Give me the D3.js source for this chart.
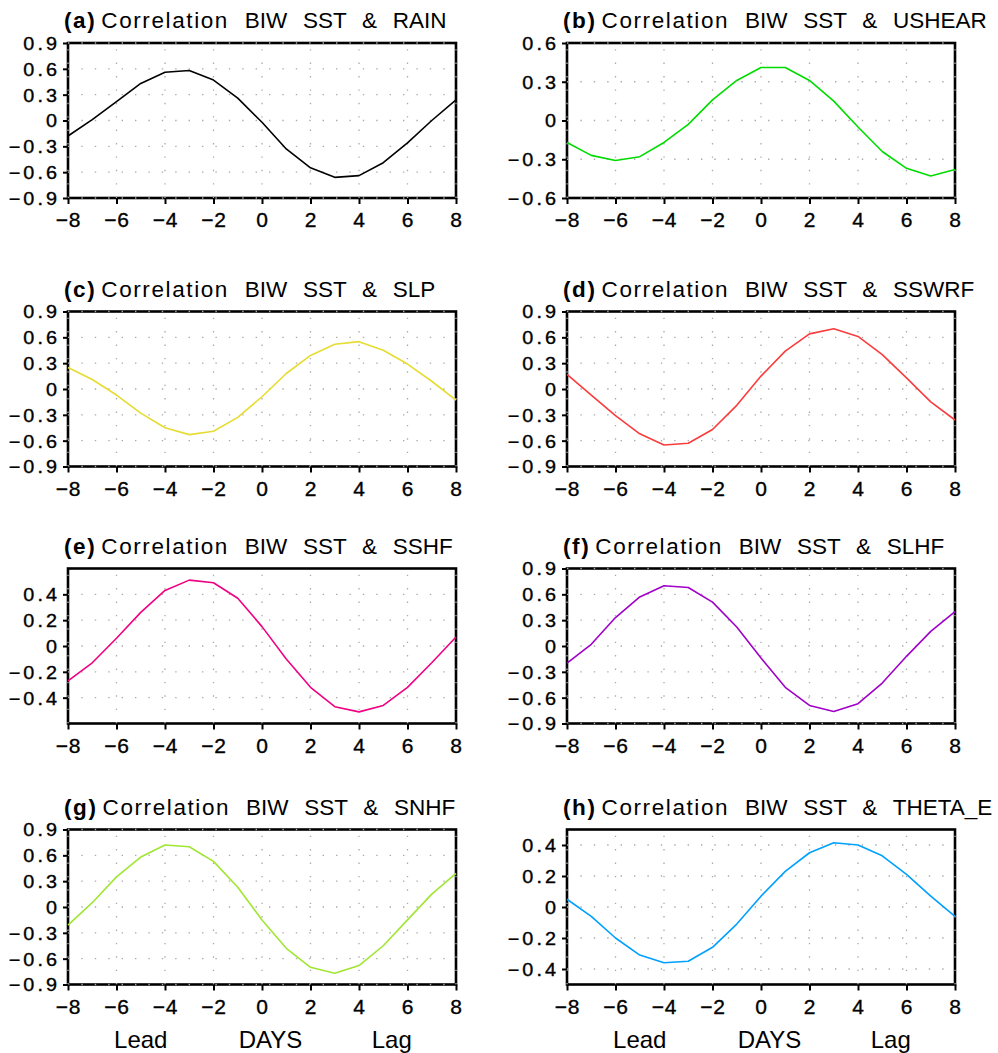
<!DOCTYPE html>
<html>
<head>
<meta charset="utf-8">
<script src="https://cdn.jsdelivr.net/npm/d3@7"></script>
<style>
  body { margin: 0; background: #fff; }
  text { font-family: "Liberation Sans", Arial, sans-serif; fill: #000; }
</style>
</head>
<body>
<div id="chart"></div>
<script>
// lag in days (x axis)
const days = [-8, -7, -6, -5, -4, -3, -2, -1, 0, 1, 2, 3, 4, 5, 6, 7, 8];
const xTicks = [-8, -6, -4, -2, 0, 2, 4, 6, 8];

// correlation values, one per day
const rain   = [-0.18, 0.01, 0.22, 0.43, 0.56, 0.58, 0.47, 0.26, -0.02, -0.33, -0.55, -0.66, -0.64, -0.49, -0.26, 0.00, 0.24];
const ushear = [-0.17, -0.27, -0.31, -0.28, -0.17, -0.03, 0.16, 0.31, 0.41, 0.41, 0.31, 0.15, -0.05, -0.24, -0.37, -0.43, -0.38];
const slp    = [0.25, 0.11, -0.07, -0.28, -0.45, -0.53, -0.49, -0.33, -0.09, 0.18, 0.39, 0.52, 0.55, 0.45, 0.29, 0.09, -0.13];
const sswrf  = [0.17, -0.07, -0.31, -0.52, -0.65, -0.63, -0.47, -0.19, 0.15, 0.44, 0.64, 0.70, 0.61, 0.40, 0.13, -0.15, -0.36];
const sshf   = [-0.27, -0.13, 0.06, 0.26, 0.43, 0.51, 0.49, 0.37, 0.15, -0.10, -0.32, -0.47, -0.51, -0.46, -0.32, -0.13, 0.07];
const slhf   = [-0.20, 0.02, 0.33, 0.57, 0.70, 0.68, 0.51, 0.22, -0.14, -0.48, -0.69, -0.76, -0.67, -0.43, -0.12, 0.17, 0.40];
const snhf   = [-0.21, 0.05, 0.35, 0.58, 0.72, 0.70, 0.53, 0.23, -0.15, -0.48, -0.70, -0.77, -0.68, -0.45, -0.15, 0.15, 0.39];
const thetaE = [0.05, -0.06, -0.20, -0.31, -0.36, -0.35, -0.26, -0.11, 0.07, 0.23, 0.35, 0.415, 0.40, 0.33, 0.21, 0.07, -0.06];

// y tick labels
const ticks9 = [-0.9, -0.6, -0.3, 0, 0.3, 0.6, 0.9];
const ticks6 = [-0.6, -0.3, 0, 0.3, 0.6];
const ticks4 = [-0.4, -0.2, 0, 0.2, 0.4];

const panels = [
  { tag: "(a)", title: "Correlation BIW SST & RAIN",    values: rain,   color: "#000000",          ticks: ticks9, domain: [-0.9, 0.9] },
  { tag: "(b)", title: "Correlation BIW SST & USHEAR",  values: ushear, color: "rgb(0,220,0)",     ticks: ticks6, domain: [-0.6, 0.6] },
  { tag: "(c)", title: "Correlation BIW SST & SLP",     values: slp,    color: "rgb(230,220,50)",  ticks: ticks9, domain: [-0.9, 0.9] },
  { tag: "(d)", title: "Correlation BIW SST & SSWRF",   values: sswrf,  color: "rgb(250,60,60)",   ticks: ticks9, domain: [-0.9, 0.9] },
  { tag: "(e)", title: "Correlation BIW SST & SSHF",    values: sshf,   color: "rgb(240,0,130)",   ticks: ticks4, domain: [-0.6, 0.6] },
  { tag: "(f)", title: "Correlation BIW SST & SLHF",    values: slhf,   color: "rgb(160,0,200)",   ticks: ticks9, domain: [-0.9, 0.9] },
  { tag: "(g)", title: "Correlation BIW SST & SNHF",    values: snhf,   color: "rgb(160,230,50)",  ticks: ticks9, domain: [-0.9, 0.9] },
  { tag: "(h)", title: "Correlation BIW SST & THETA_E", values: thetaE, color: "rgb(0,160,255)",   ticks: ticks4, domain: [-0.5, 0.5] }
];

const bottomLabels = [["Lead", -5], ["DAYS", 0.35], ["Lag", 5.35]];

const width = 998, height = 1053;
const colX = [68, 567], rowY = [43, 311.5, 568.5, 829.5];
const pw = 388, ph = 155;
const yLabelScale = 1.1, yLabelGap = 11, yLabelLs = 2.8;

const svg = d3.select("#chart").append("svg")
    .attr("width", width)
    .attr("height", height);

const x = d3.scaleLinear().domain([-8, 8]).range([0, pw]);
const fmt = d => d === 0 ? "0" : d3.format(".1f")(d);

panels.forEach((p, i) => {
    const col = i % 2, row = Math.floor(i / 2);
    const g = svg.append("g")
        .attr("transform", `translate(${colX[col]},${rowY[row]})`);
    const y = d3.scaleLinear().domain(p.domain).range([ph, 0]);

    // frame
    g.append("rect")
        .attr("width", pw)
        .attr("height", ph)
        .attr("fill", "none")
        .attr("stroke", "#000")
        .attr("stroke-width", 2.6);

    // dotted grid
    const grid = g.append("g")
        .attr("stroke", "#aaa")
        .attr("stroke-width", 1.3)
        .attr("stroke-dasharray", "1.4,12");
    grid.selectAll(".h").data(p.ticks).join("line")
        .attr("x1", 0).attr("x2", pw)
        .attr("y1", d => y(d)).attr("y2", d => y(d));
    grid.selectAll(".v").data(xTicks).join("line")
        .attr("x1", d => x(d)).attr("x2", d => x(d))
        .attr("y1", ph).attr("y2", 0);

    // x axis
    const ax = g.append("g")
        .attr("transform", `translate(0,${ph})`)
        .call(d3.axisBottom(x).tickValues(xTicks).tickSize(6).tickSizeOuter(0).tickFormat(d3.format("d")));
    ax.select(".domain").remove();
    ax.selectAll(".tick line").attr("stroke", "#000").attr("stroke-width", 2);
    ax.selectAll(".tick text")
        .attr("y", 29).attr("dy", null)
        .attr("font-size", 21)
        .attr("letter-spacing", 0.8)
        .attr("stroke", "#000")
        .attr("stroke-width", 0.35)
        .attr("font-family", "Liberation Sans");

    // y axis
    const ay = g.append("g")
        .call(d3.axisLeft(y).tickValues(p.ticks).tickSize(5).tickSizeOuter(0).tickFormat(fmt));
    ay.select(".domain").remove();
    ay.selectAll(".tick line").attr("stroke", "#000").attr("stroke-width", 2);
    ay.selectAll(".tick text")
        .attr("x", -(yLabelGap - yLabelLs * yLabelScale) / yLabelScale)
        .attr("dy", "0.36em")
        .attr("transform", `scale(${yLabelScale},1)`)
        .attr("font-size", 18)
        .attr("letter-spacing", yLabelLs)
        .attr("stroke", "#000")
        .attr("stroke-width", 0.35)
        .attr("font-family", "Liberation Sans");

    // correlation curve
    g.append("path")
        .datum(days.map((d, k) => [d, p.values[k]]))
        .attr("fill", "none")
        .attr("stroke", p.color)
        .attr("stroke-width", 1.6)
        .attr("stroke-linejoin", "round")
        .attr("d", d3.line().x(d => x(d[0])).y(d => y(d[1])));

    // title: bold tag, spaced-out first word, wide gaps between the rest
    const words = p.title.split(" ");
    const t = g.append("text")
        .attr("x", -4)
        .attr("y", -15)
        .attr("font-size", 22.5);
    t.append("tspan").attr("font-weight", "bold").attr("letter-spacing", 1.6).text(p.tag);
    t.append("tspan").attr("dx", 5).attr("letter-spacing", 1.6).text(words[0]);
    t.append("tspan")
        .attr("word-spacing", 9.5)
        .text(" " + words.slice(1).join(" "));

    // bottom row gets the Lead / DAYS / Lag labels
    if (row === 3) {
        g.selectAll(".blab").data(bottomLabels).join("text")
            .attr("x", d => x(d[1]))
            .attr("y", ph + 63)
            .attr("text-anchor", "middle")
            .attr("font-size", 24)
            .text(d => d[0]);
    }
});
</script>
</body>
</html>
